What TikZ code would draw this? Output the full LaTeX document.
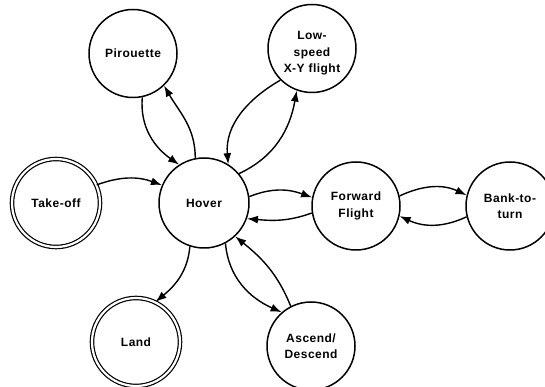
\documentclass[tikz,border=0pt]{standalone}
\usepackage{fontspec}
\setmainfont{Liberation Sans}[LetterSpace=4]
\usetikzlibrary{arrows.meta}
\tikzset{
  st/.style={circle, draw, line width=1.5pt, minimum size=88pt, inner sep=0pt, align=center,
    font=\bfseries\fontsize{12}{16.5}\selectfont},
  lab/.style={inner sep=0pt, align=center, font=\bfseries\fontsize{12}{16.5}\selectfont},
  fin/.style={st, double, line width=1.2pt, double distance=2.2pt},
  tr/.style={-{Latex[length=11pt,width=8pt]}, line width=1.4pt},
}
\begin{document}
\begin{tikzpicture}[x=1pt,y=1pt]
\useasboundingbox (0,0) rectangle (545,387);
\clip (0,0) rectangle (545,387);
\node[st] (pir) at (133,333.5) {Pirouette};
\node[st] (low) at (312,338.5) {};
\node[lab] (lowtxt) at (312,333.5) {Low-\\speed\\X-Y flight};
\node[fin] (take) at (56,184) {Take-off};
\node[st, minimum size=90pt] (hov) at (204,184) {Hover};
\node[st] (ff) at (356,181) {Forward\\Flight};
\node[st] (bank) at (510,181) {Bank-to-\\turn};
\node[fin] (land) at (136,45) {Land};
\node[st] (asc) at (311,41) {Ascend/\\Descend};

\draw[tr] (pir.-78) to[out=-95, in=145] (hov.123);
\draw[tr] (hov.101) to[out=90, in=-60] (pir.-46);
\draw[tr] (low.-135) to[out=-150, in=95] (hov.58);
\draw[tr] (hov.40) to[out=25, in=-100] (low.-110);
\draw[tr] (take.24) to[out=20, in=160] (hov.157);
\draw[tr] (hov.8) to[out=22, in=160] (ff.169);
\draw[tr] (ff.-171) to[out=-160, in=-5] (hov.-20);
\draw[tr] (ff.13) to[out=25, in=155] (bank.166);
\draw[tr] (bank.-166) to[out=-155, in=-25] (ff.-13);
\draw[tr] (hov.-108) to[out=-95, in=40] (land.64);
\draw[tr] (asc.117) to[out=112, in=-39] (hov.-47);
\draw[tr] (hov.-62) to[out=-85, in=156] (asc.131);
\end{tikzpicture}
\end{document}
